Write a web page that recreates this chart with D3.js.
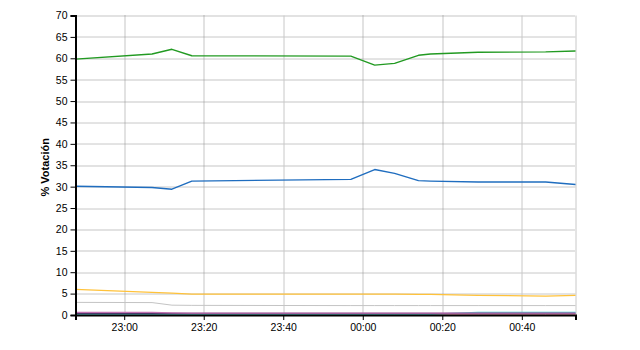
<!DOCTYPE html>
<html>
<head>
<meta charset="utf-8">
<script src="https://cdn.jsdelivr.net/npm/d3@7"></script>
<style>
  body { margin: 0; background: #fff; }
  svg { display: block; }
  text { font-family: "Liberation Sans", Arial, sans-serif; }
</style>
</head>
<body>
<div id="chart"></div>
<script>
// hora de cada recuento (despues de medianoche es el dia siguiente)
var horas = ["22:47:45", "23:07", "23:12", "23:17", "23:57", "00:03", "00:08", "00:14", "00:17", "00:29", "00:46", "00:53:30"];

var verde   = [59.8, 61.0, 62.1, 60.6, 60.5, 58.4, 58.8, 60.7, 61.0, 61.4, 61.5, 61.7];
var azul    = [30.1, 29.8, 29.4, 31.3, 31.7, 34.0, 33.1, 31.4, 31.3, 31.1, 31.1, 30.5];
var naranja = [6.0, 5.3, 5.1, 4.9, 4.9, 4.9, 4.9, 4.8, 4.8, 4.6, 4.4, 4.6];
var gris    = [2.95, 2.9, 2.3, 2.25, 2.2, 2.2, 2.2, 2.2, 2.2, 2.2, 2.2, 2.2];
var rosa    = [0.6, 0.6, 0.5, 0.45, 0.45, 0.45, 0.45, 0.45, 0.45, 0.45, 0.45, 0.45];
var marino  = [0.4, 0.4, 0.4, 0.4, 0.4, 0.4, 0.4, 0.4, 0.4, 0.4, 0.4, 0.4];
var cian    = [0.2, 0.2, 0.2, 0.2, 0.2, 0.2, 0.2, 0.2, 0.2, 0.6, 0.6, 0.6];
var rojo    = [0.1, 0.1, 0.1, 0.1, 0.1, 0.1, 0.1, 0.1, 0.1, 0.1, 0.1, 0.1];

var yTicks = [0, 5, 10, 15, 20, 25, 30, 35, 40, 45, 50, 55, 60, 65, 70];
var xTicks = ["23:00", "23:20", "23:40", "00:00", "00:20", "00:40"];

// lines drawn solid light grey instead of dotted (as the original shows them)
var solidY = [65, 60, 45, 40, 30, 25, 10, 5];
var solidX = ["23:40", "00:40"];

var series = [
  {vals: gris,    color: "#c4c4c4", w: 1},
  {vals: rojo,    color: "#e090a8", w: 1},
  {vals: cian,    color: "#33cccc", w: 1.2},
  {vals: marino,  color: "#4a3a6a", w: 1.2},
  {vals: rosa,    color: "#c070b0", w: 1.2},
  {vals: naranja, color: "#ffc23a", w: 1.3},
  {vals: azul,    color: "#1f6dbf", w: 1.4},
  {vals: verde,   color: "#229a22", w: 1.4}
];

var W = 640, H = 350;
var margin = {top: 15.5, right: 64.5, bottom: 35, left: 75.5};
var width = W - margin.left - margin.right,
    height = H - margin.top - margin.bottom;

function toDate(h) {
  var p = h.split(":").map(Number);
  var day = p[0] < 12 ? 2 : 1;
  return new Date(2011, 4, day, p[0], p[1], p[2] || 0);
}
var fechas = horas.map(toDate);

var x = d3.scaleTime().domain(d3.extent(fechas)).range([0, width]);
var y = d3.scaleLinear().domain([0, 70]).range([height, 0]);

var svg = d3.select("#chart").append("svg")
    .attr("width", W).attr("height", H)
  .append("g")
    .attr("transform", "translate(" + margin.left + "," + margin.top + ")");

// horizontal grid
svg.selectAll(".hgrid")
  .data(yTicks.filter(function(d){ return d > 0; }))
  .enter().append("line")
    .attr("x1", 0).attr("x2", width)
    .attr("y1", function(d){ return Math.round(y(d)) + 0.5; })
    .attr("y2", function(d){ return Math.round(y(d)) + 0.5; })
    .attr("stroke", function(d){ return solidY.indexOf(d) >= 0 ? "#c8c8c8" : "#8a8a8a"; })
    .attr("stroke-dasharray", function(d){ return solidY.indexOf(d) >= 0 ? null : "1,1"; });

// vertical grid
svg.selectAll(".vgrid")
  .data(xTicks)
  .enter().append("line")
    .attr("x1", function(d){ return Math.round(x(toDate(d))) + 0.5; })
    .attr("x2", function(d){ return Math.round(x(toDate(d))) + 0.5; })
    .attr("y1", 0).attr("y2", height)
    .attr("stroke", function(d){ return solidX.indexOf(d) >= 0 ? "#c8c8c8" : "#8a8a8a"; })
    .attr("stroke-dasharray", function(d){ return solidX.indexOf(d) >= 0 ? null : "1,1"; });

// right border
svg.append("line")
  .attr("x1", width + 0.5).attr("x2", width + 0.5)
  .attr("y1", 0).attr("y2", height)
  .attr("stroke", "#c8c8c8");

// series
var line = d3.line()
  .x(function(d, i){ return x(fechas[i]); })
  .y(function(d){ return y(d); });

svg.selectAll(".serie")
  .data(series)
  .enter().append("path")
    .attr("d", function(s){ return line(s.vals); })
    .attr("fill", "none")
    .attr("stroke", function(s){ return s.color; })
    .attr("stroke-width", function(s){ return s.w; })
    .attr("stroke-linejoin", "round");

// axes
var yAxis = d3.axisLeft(y).tickValues(yTicks).tickSize(5).tickPadding(3);
var gy = svg.append("g").call(yAxis);
gy.select(".domain").attr("stroke", "#000").attr("stroke-width", 2);
gy.selectAll(".tick line").attr("stroke", "#000");
gy.selectAll("text").attr("font-size", 10.5).attr("font-family", "Liberation Sans, Arial, sans-serif").attr("fill", "#000");

var xAxis = d3.axisBottom(x)
  .tickValues(xTicks.map(toDate))
  .tickFormat(d3.timeFormat("%H:%M"))
  .tickSize(5).tickPadding(4);
var gx = svg.append("g").attr("transform", "translate(0," + height + ")").call(xAxis);
gx.select(".domain").attr("stroke", "#000").attr("stroke-width", 2);
gx.selectAll(".tick line").attr("stroke", "#000");
gx.selectAll("text").attr("font-size", 10.5).attr("font-family", "Liberation Sans, Arial, sans-serif").attr("fill", "#000");

// y title
svg.append("text")
  .attr("transform", "translate(" + (-27) + "," + (height / 2 + 2) + ")rotate(-90)")
  .attr("text-anchor", "middle")
  .attr("font-size", 11)
  .attr("font-weight", "bold")
  .text("% Votación");
</script>
</body>
</html>
